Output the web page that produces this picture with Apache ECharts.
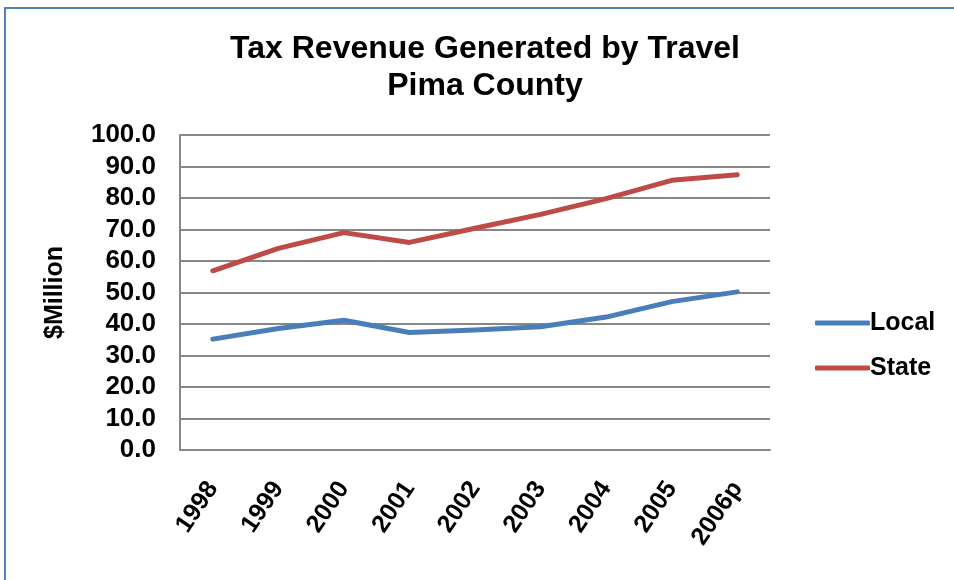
<!DOCTYPE html>
<html>
<head>
<meta charset="utf-8">
<script src="https://cdn.jsdelivr.net/npm/echarts@6/dist/echarts.min.js"></script>
<style>
html,body{margin:0;padding:0;background:#fff;}
#frame{position:absolute;left:4px;top:7px;width:960px;height:590px;border-left:2px solid #4F81BD;border-top:2px solid #4F81BD;}
#chart{position:absolute;left:0;top:0;width:954px;height:580px;}
</style>
</head>
<body>
<div id="frame"></div>
<div id="chart"></div>
<script>
const categories = ['1998','1999','2000','2001','2002','2003','2004','2005','2006p'];
const localValues = [35.2, 38.6, 41.2, 37.3, 38.1, 39.1, 42.2, 47.1, 50.2];
const stateValues = [56.9, 64.0, 69.0, 65.9, 70.4, 74.8, 79.8, 85.6, 87.4];
const yTicks = [0, 10, 20, 30, 40, 50, 60, 70, 80, 90, 100];

const chart = echarts.init(document.getElementById('chart'));
const F = 'Liberation Sans, Arial, sans-serif';
chart.setOption({
  backgroundColor: 'transparent',
  animation: false,
  title: {
    text: 'Tax Revenue Generated by Travel\nPima County',
    left: 480, top: 26, textAlign: 'center',
    textStyle: {fontFamily: F, fontWeight: 'bold', fontSize: 32, lineHeight: 37, color: '#000'}
  },
  legend: {
    orient: 'vertical', left: 810, top: 304,
    icon: 'roundRect',
    itemWidth: 55, itemHeight: 5, itemGap: 17,
    textStyle: {fontFamily: F, fontWeight: 'bold', fontSize: 25, lineHeight: 28, color: '#000', padding: [0,0,0,-5]},
    data: ['Local', 'State']
  },
  grid: {left: 180, right: 184, top: 135, bottom: 130},
  xAxis: {
    type: 'category', data: categories, boundaryGap: true,
    axisLine: {lineStyle: {color: '#878787', width: 2}},
    axisTick: {show: false},
    axisLabel: {rotate: 56, margin: 34, fontFamily: F, fontWeight: 'bold', fontSize: 25, color: '#000', interval: 0}
  },
  yAxis: {
    type: 'value', min: yTicks[0], max: yTicks[yTicks.length-1], interval: 10,
    name: '$Million', nameLocation: 'middle', nameGap: 112, nameRotate: 90,
    nameTextStyle: {fontFamily: F, fontWeight: 'bold', fontSize: 25, color: '#000'},
    axisLine: {show: true, lineStyle: {color: '#878787', width: 2}},
    axisTick: {show: false},
    splitLine: {lineStyle: {color: '#878787', width: 2}},
    axisLabel: {margin: 24, fontFamily: F, fontWeight: 'bold', fontSize: 26, color: '#000',
      formatter: v => v.toFixed(1)}
  },
  series: [
    {name: 'Local', type: 'line', data: localValues, symbol: 'none', color: '#4A7EBB',
     lineStyle: {width: 5, color: '#4A7EBB', cap: 'round', join: 'round'}},
    {name: 'State', type: 'line', data: stateValues, symbol: 'none', color: '#BE4B48',
     lineStyle: {width: 5, color: '#BE4B48', cap: 'round', join: 'round'}}
  ]
});
</script>
</body>
</html>
